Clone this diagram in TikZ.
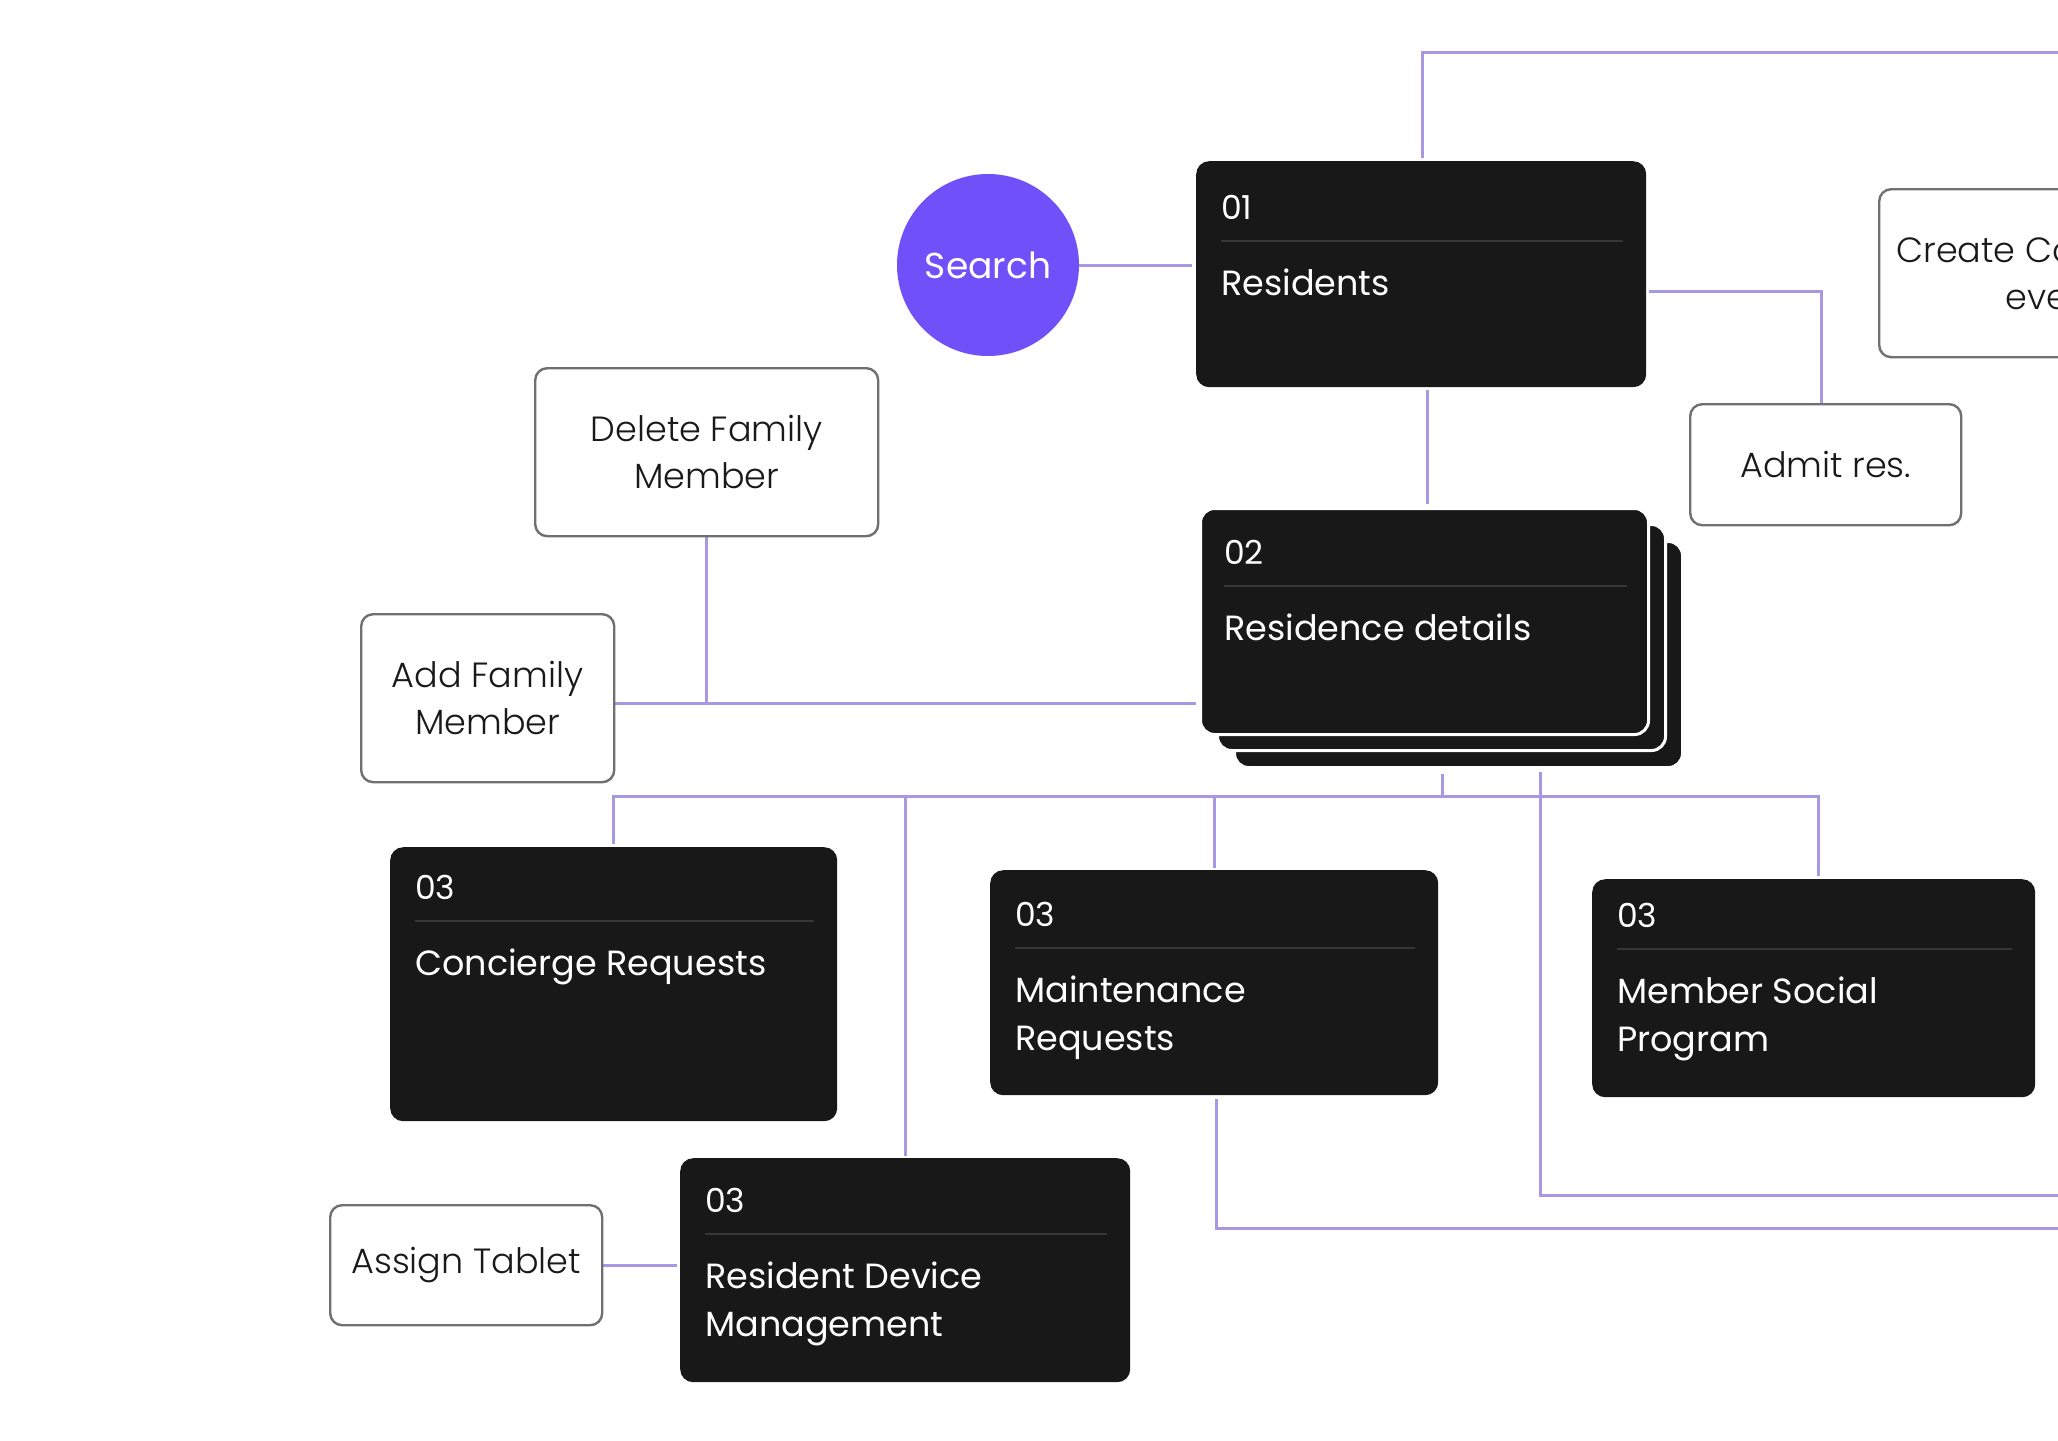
\documentclass[tikz,border=0pt]{standalone}
\usepackage{fontspec}
\setmainfont{Poppins}
\newfontfamily\lightfont{Poppins Light}
\usetikzlibrary{calc}
\definecolor{linec}{RGB}{168,152,228}
\definecolor{cardc}{RGB}{24,24,24}
\definecolor{sepc}{RGB}{54,54,54}
\definecolor{searchc}{RGB}{112,80,248}
\definecolor{boxc}{RGB}{112,112,112}
\pgfdeclarelayer{bglayer}
\pgfdeclarelayer{connlayer}
\pgfsetlayers{bglayer,connlayer,main}
\newcommand{\dcard}[7]{% name, x, y, w, h, dy, number
  \node[card, minimum width=#4pt, minimum height=#5pt, anchor=north west] (#1) at (#2,#3) {};
  \node[cnum, anchor=base west] (#1num) at ($(#1.north west)+(25,#6)$) {#7};
  \draw[sepl] ($(#1.north west)+(25,#6+22)$) -- ($(#1.north east)+(-23,#6+22)$);
}
\newcommand{\ctitle}[4]{% card, dy, linenumber(0/1), text
  \node[ctext, anchor=base west] (#1t#3) at ($(#1.north west)+(25,#2+76+48*#3)$) {#4};
}
\begin{document}
\begin{tikzpicture}[x=1pt,y=-1pt,
  conn/.style={draw=linec, line width=3pt},
  card/.style={fill=cardc, rounded corners=13pt, draw=none, inner sep=0pt},
  stackcard/.style={fill=cardc, rounded corners=14pt, draw=white, line width=3pt, inner sep=0pt},
  wbox/.style={draw=boxc, line width=2.4pt, fill=white, rounded corners=12pt, align=center,
    font=\lightfont\fontsize{35}{47}\selectfont, text=black!90, inner sep=0pt},
  cnum/.style={text=white, font=\fontsize{33}{40}\selectfont, inner sep=0pt},
  ctext/.style={text=white, font=\fontsize{35}{48}\selectfont, inner sep=0pt},
  sepl/.style={draw=sepc, line width=2pt}]
\useasboundingbox (0,0) rectangle (2058,1440);
\clip (0,0) rectangle (2058,1440);
\begin{pgfonlayer}{bglayer}
\fill[white] (0,0) rectangle (2058,1440);
\end{pgfonlayer}

% Search
\node[circle, fill=searchc, minimum size=182pt, inner sep=0pt, text=white,
  font=\fontsize{36}{44}\selectfont] (search) at (988,265) {Search};

% Residents
\dcard{res}{1196}{161}{450}{226}{58}{01}
\ctitle{res}{58}{0}{Residents}

% Residence details stack
\node[stackcard, minimum width=448pt, minimum height=226pt, anchor=north west] (rd3) at (1233,540) {};
\node[stackcard, minimum width=448pt, minimum height=226pt, anchor=north west] (rd2) at (1216,523) {};
\node[stackcard, minimum width=448pt, minimum height=226pt, anchor=north west] (rd) at (1199,507) {};
\node[cnum, anchor=base west] (rdnum) at ($(rd.north west)+(25,57)$) {02};
\draw[sepl] ($(rd.north west)+(25,79)$) -- ($(rd.north east)+(-23,79)$);
\node[ctext, anchor=base west] (rdt0) at ($(rd.north west)+(25,133)$) {Residence details};

% Level 3 cards
\dcard{conc}{390}{847}{447}{274}{52}{03}
\ctitle{conc}{52}{0}{Concierge Requests}

\dcard{maint}{990}{870}{448}{225}{56}{03}
\ctitle{maint}{56}{0}{Maintenance}
\ctitle{maint}{56}{1}{Requests}

\dcard{msp}{1592}{879}{443}{218}{48}{03}
\ctitle{msp}{48}{0}{Member Social}
\ctitle{msp}{48}{1}{Program}

\dcard{rdm}{680}{1158}{450}{224}{54}{03}
\ctitle{rdm}{54}{0}{Resident Device}
\ctitle{rdm}{54}{1}{Management}

% White boxes
\node[wbox, minimum width=343pt, minimum height=168pt, anchor=north west] (del) at (534,367) {Delete Family\\Member};
\node[wbox, minimum width=253pt, minimum height=168pt, anchor=north west] (add) at (360,613) {Add Family\\Member};
\node[wbox, minimum width=271pt, minimum height=121pt, anchor=north west] (admit) at (1689,403) {Admit res.};
\node[wbox, minimum width=368pt, minimum height=168pt, anchor=north west] (create) at (1878,188) {Create Community\\events};
\node[wbox, minimum width=272pt, minimum height=120pt, anchor=north west] (assign) at (329,1204) {Assign Tablet};

% Connectors
\coordinate (topend) at (2075,52);
\coordinate (fj) at ($(del.south)+(0,166)$);
\coordinate (bus) at (1442,796);
\coordinate (r1end) at (2075,1195);
\coordinate (r2end) at (2075,1228);
\coordinate (rsx) at ($(res.south)+(6,3)$);
\coordinate (rdb) at ($(rd3.south)+(-16,5)$);
\begin{pgfonlayer}{connlayer}
\draw[conn, shorten >=4pt] (search.east) -- (search.east -| res.west);
\draw[conn] ($(res.north)+(1,-3)$) |- (topend);
\draw[conn] ($(res.east)+(3,17)$) -| ($(admit.north)+(-4,0)$);
\draw[conn, shorten >=3pt] (rsx) -- (rsx |- rd.north);
\draw[conn, shorten >=3pt] (add.east |- fj) -- (fj -| rd.west);
\draw[conn] (del.south) -- (fj);
\draw[conn] (rdb) -- (rdb |- bus);
\draw[conn] ($(conc.north)+(0,-3)$) |- ($(msp.north |- bus)+(5,0)$) -- ($(msp.north)+(5,-3)$);
\draw[conn] (rdm.north |- bus) -- ($(rdm.north)+(0,-2)$);
\draw[conn] (maint.north |- bus) -- ($(maint.north)+(0,-2)$);
\draw[conn] ($(rd3.south)+(82,3)$) |- (r1end);
\draw[conn] ($(maint.south)+(2,4)$) |- (r2end);
\draw[conn, shorten >=3pt] (assign.east) -- (assign.east -| rdm.west);
\end{pgfonlayer}
\end{tikzpicture}
\end{document}
